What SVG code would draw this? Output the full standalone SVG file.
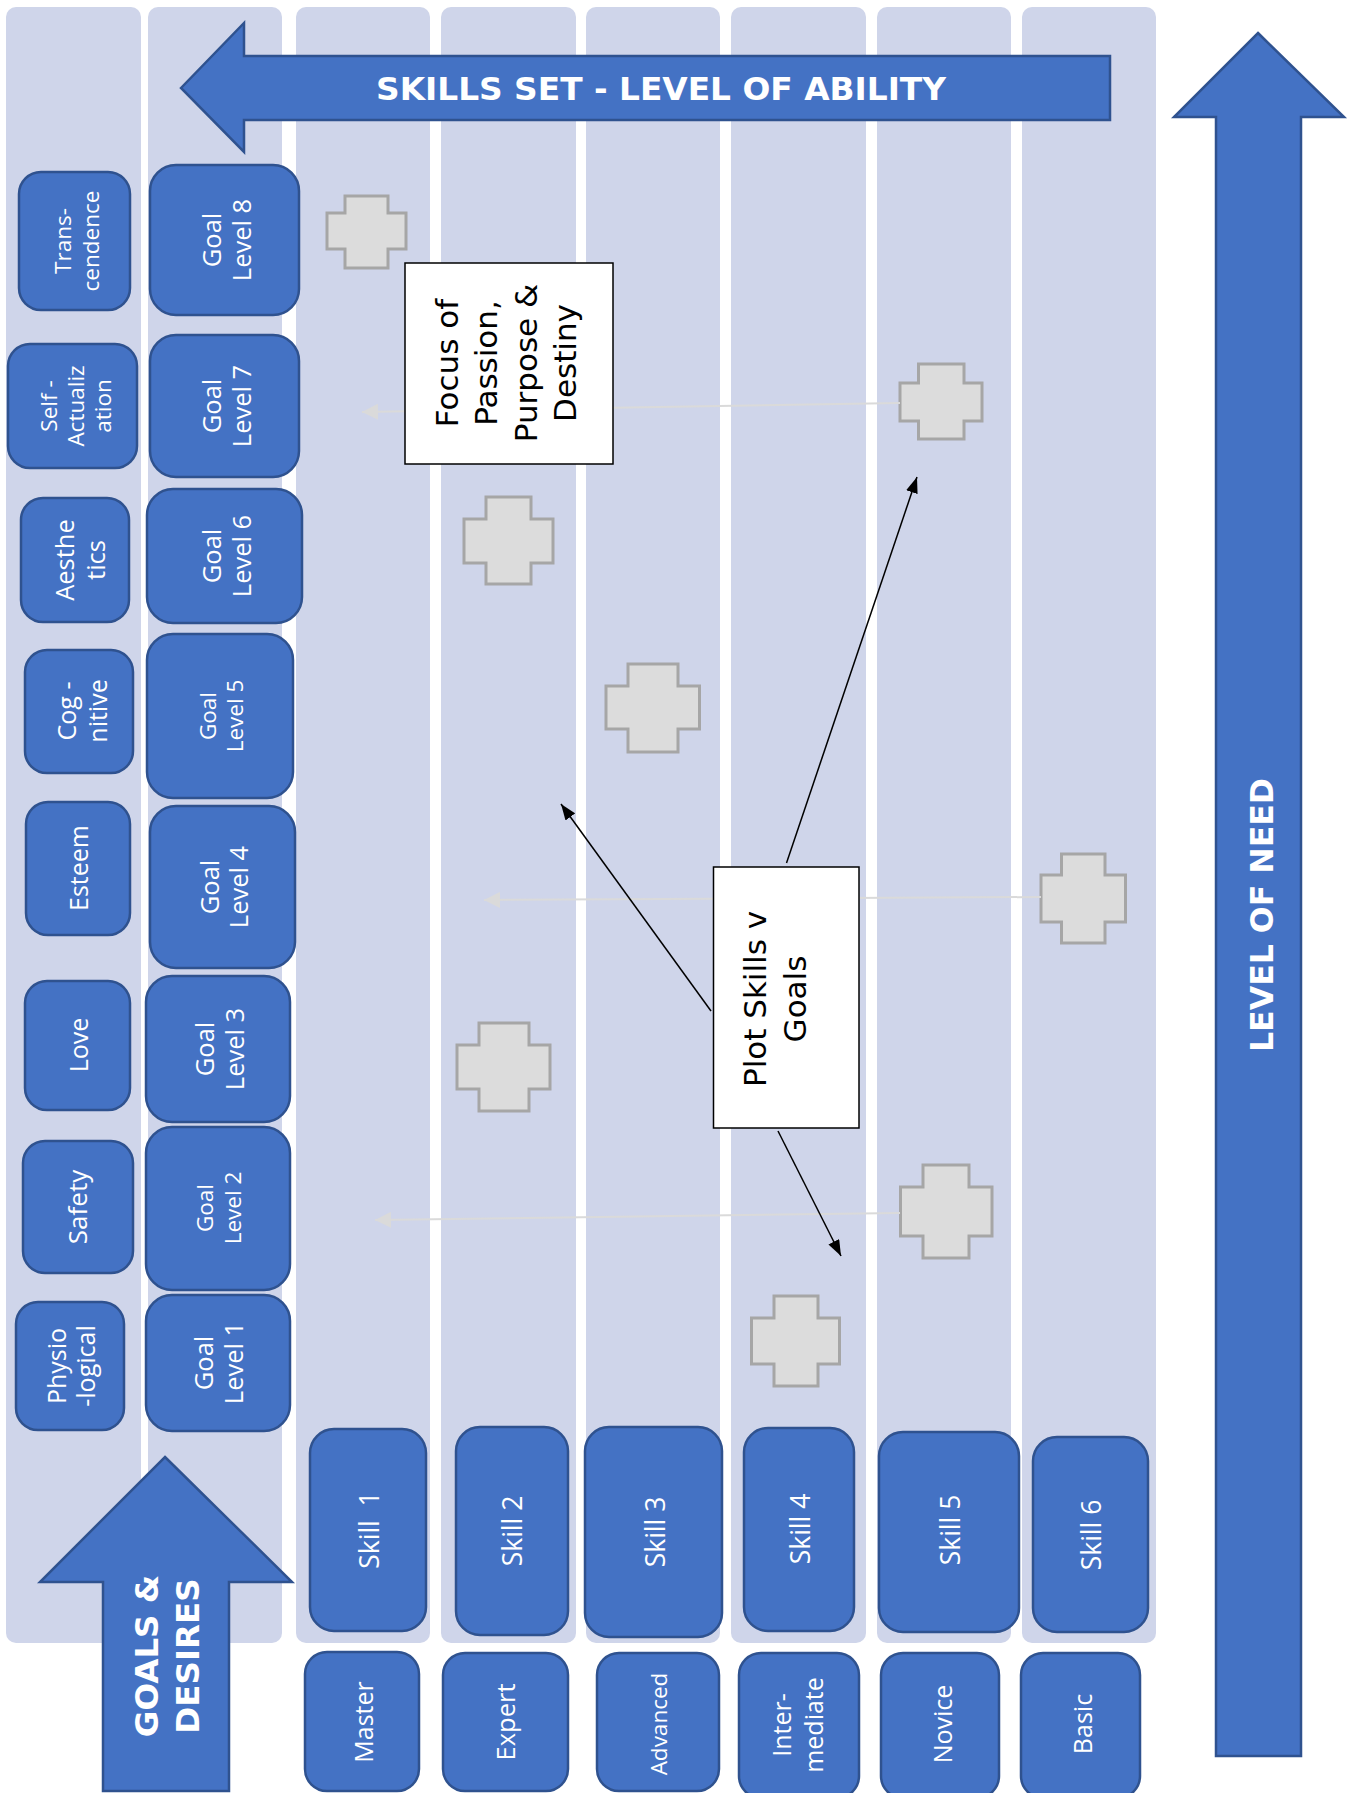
<svg xmlns="http://www.w3.org/2000/svg" width="1354" height="1793" viewBox="0 0 1354 1793">
  <style>
    .lane { fill: #CFD5EA; }
    .box { fill: #4472C4; stroke: #2F528F; stroke-width: 2.5; }
    .big { fill: #4472C4; stroke: #2F528F; stroke-width: 2.5; }
    .lbl { fill: #FFFFFF; font-family: "Open Sans", "DejaVu Sans", sans-serif; text-anchor: middle; }
    .bigtxt { fill: #FFFFFF; font-family: "DejaVu Sans", "Liberation Sans", sans-serif; font-weight: bold; text-anchor: middle; }
    .cross { fill: #DCDCDC; stroke: #A6A6A6; stroke-width: 3; }
    .note { fill: #FFFFFF; stroke: #000000; stroke-width: 1.5; }
    .ntxt { fill: #000000; font-family: "DejaVu Sans", "Liberation Sans", sans-serif; font-size: 31px; text-anchor: middle; }
    .blk { stroke: #000000; stroke-width: 1.5; fill: none; marker-end: url(#ah); }
    .gry { stroke: #DADADA; stroke-width: 2; fill: none; marker-end: url(#ahg); }
  </style>
  <defs>
    <marker id="ah" viewBox="0 0 16 12" refX="16" refY="6" markerWidth="16" markerHeight="12" markerUnits="userSpaceOnUse" orient="auto">
      <path d="M0,0 L16,6 L0,12 z" fill="#000000"/>
    </marker>
    <marker id="ahg" viewBox="0 0 16 16" refX="16" refY="8" markerWidth="16" markerHeight="16" markerUnits="userSpaceOnUse" orient="auto">
      <path d="M0,0 L16,8 L0,16 z" fill="#DADADA"/>
    </marker>
  </defs>

  <rect width="1354" height="1793" fill="#FFFFFF"/>

  <!-- background swim lanes -->
  <g id="lanes">
    <rect class="lane" x="6" y="7" width="135" height="1636" rx="10"/>
    <rect class="lane" x="148" y="7" width="134" height="1636" rx="10"/>
    <rect class="lane" x="296" y="7" width="134" height="1636" rx="10"/>
    <rect class="lane" x="441" y="7" width="135" height="1636" rx="10"/>
    <rect class="lane" x="586" y="7" width="134" height="1636" rx="10"/>
    <rect class="lane" x="731" y="7" width="135" height="1636" rx="10"/>
    <rect class="lane" x="877" y="7" width="134" height="1636" rx="10"/>
    <rect class="lane" x="1022" y="7" width="134" height="1636" rx="10"/>
  </g>

  <!-- big block arrows -->
  <g id="arrow-skills-set">
    <polygon class="big" points="181,88 244,23 244,56 1110,56 1110,120 244,120 244,152"/>
    <text class="bigtxt" x="661" y="100" font-size="32" textLength="570" lengthAdjust="spacingAndGlyphs">SKILLS SET - LEVEL OF ABILITY</text>
  </g>
  <g id="arrow-level-of-need">
    <polygon class="big" points="1258,33 1344,117 1301,117 1301,1756 1216,1756 1216,117 1174,117"/>
    <text class="bigtxt" transform="translate(1273,915) rotate(-90)" font-size="32" textLength="274" lengthAdjust="spacingAndGlyphs">LEVEL OF NEED</text>
  </g>
  <g id="arrow-goals-desires">
    <polygon class="big" points="165,1457 292,1582 229,1582 229,1791 103,1791 103,1582 40,1582"/>
    <text class="bigtxt" transform="translate(158,1656) rotate(-90)" font-size="32.5"><tspan x="0" y="0">GOALS &amp;</tspan><tspan x="0" y="41">DESIRES</tspan></text>
  </g>

  <!-- needs column -->
  <g id="need-transcendence">
    <rect class="box" x="19" y="172" width="111" height="138" rx="22"/>
    <text class="lbl" transform="translate(71,241) rotate(-90)" font-size="22.5"><tspan x="0" y="0">Trans-</tspan><tspan x="0" y="28">cendence</tspan></text>
  </g>
  <g id="need-self-actualization">
    <rect class="box" x="8" y="344" width="129" height="124" rx="22"/>
    <text class="lbl" transform="translate(57,406) rotate(-90)" font-size="22.5"><tspan x="0" y="0">Self -</tspan><tspan x="0" y="27">Actualiz</tspan><tspan x="0" y="54">ation</tspan></text>
  </g>
  <g id="need-aesthetics">
    <rect class="box" x="21" y="498" width="108" height="124" rx="22"/>
    <text class="lbl" transform="translate(74,560) rotate(-90)" font-size="25.5"><tspan x="0" y="0">Aesthe</tspan><tspan x="0" y="31">tics</tspan></text>
  </g>
  <g id="need-cognitive">
    <rect class="box" x="25" y="650" width="108" height="123" rx="22"/>
    <text class="lbl" transform="translate(76,711) rotate(-90)" font-size="25"><tspan x="0" y="0">Cog -</tspan><tspan x="0" y="31">nitive</tspan></text>
  </g>
  <g id="need-esteem">
    <rect class="box" x="26" y="802" width="104" height="133" rx="22"/>
    <text class="lbl" transform="translate(88,868) rotate(-90)" font-size="25">Esteem</text>
  </g>
  <g id="need-love">
    <rect class="box" x="25" y="981" width="105" height="129" rx="22"/>
    <text class="lbl" transform="translate(88,1045) rotate(-90)" font-size="25">Love</text>
  </g>
  <g id="need-safety">
    <rect class="box" x="23" y="1141" width="110" height="132" rx="22"/>
    <text class="lbl" transform="translate(87,1207) rotate(-90)" font-size="26">Safety</text>
  </g>
  <g id="need-physiological">
    <rect class="box" x="16" y="1302" width="108" height="128" rx="22"/>
    <text class="lbl" transform="translate(66,1366) rotate(-90)" font-size="25"><tspan x="0" y="0">Physio</tspan><tspan x="0" y="29">-logical</tspan></text>
  </g>

  <!-- goal levels column -->
  <g id="goal-8">
    <rect class="box" x="150" y="165" width="149" height="150" rx="26"/>
    <text class="lbl" transform="translate(221,240) rotate(-90)" font-size="25.5"><tspan x="0" y="0">Goal</tspan><tspan x="0" y="30">Level 8</tspan></text>
  </g>
  <g id="goal-7">
    <rect class="box" x="150" y="335" width="149" height="142" rx="26"/>
    <text class="lbl" transform="translate(221,406) rotate(-90)" font-size="25.5"><tspan x="0" y="0">Goal</tspan><tspan x="0" y="30">Level 7</tspan></text>
  </g>
  <g id="goal-6">
    <rect class="box" x="147" y="489" width="155" height="134" rx="26"/>
    <text class="lbl" transform="translate(221,556) rotate(-90)" font-size="25.5"><tspan x="0" y="0">Goal</tspan><tspan x="0" y="30">Level 6</tspan></text>
  </g>
  <g id="goal-5">
    <rect class="box" x="147" y="634" width="146" height="164" rx="26"/>
    <text class="lbl" transform="translate(216,716) rotate(-90)" font-size="22.5"><tspan x="0" y="0">Goal</tspan><tspan x="0" y="27">Level 5</tspan></text>
  </g>
  <g id="goal-4">
    <rect class="box" x="150" y="806" width="145" height="162" rx="26"/>
    <text class="lbl" transform="translate(219,887) rotate(-90)" font-size="25.5"><tspan x="0" y="0">Goal</tspan><tspan x="0" y="29">Level 4</tspan></text>
  </g>
  <g id="goal-3">
    <rect class="box" x="146" y="976" width="144" height="146" rx="26"/>
    <text class="lbl" transform="translate(214,1049) rotate(-90)" font-size="25.5"><tspan x="0" y="0">Goal</tspan><tspan x="0" y="30">Level 3</tspan></text>
  </g>
  <g id="goal-2">
    <rect class="box" x="146" y="1127" width="144" height="163" rx="26"/>
    <text class="lbl" transform="translate(213,1208) rotate(-90)" font-size="22.5"><tspan x="0" y="0">Goal</tspan><tspan x="0" y="28">Level 2</tspan></text>
  </g>
  <g id="goal-1">
    <rect class="box" x="146" y="1295" width="144" height="136" rx="26"/>
    <text class="lbl" transform="translate(213,1363) rotate(-90)" font-size="25.5"><tspan x="0" y="0">Goal</tspan><tspan x="0" y="30">Level 1</tspan></text>
  </g>

  <!-- skills row -->
  <g id="skill-1">
    <rect class="box" x="310" y="1429" width="116" height="202" rx="24"/>
    <text class="lbl" transform="translate(379,1530) rotate(-90)" font-size="26.5">Skill&#160;&#160;1</text>
  </g>
  <g id="skill-2">
    <rect class="box" x="456" y="1427" width="112" height="208" rx="24"/>
    <text class="lbl" transform="translate(522,1531) rotate(-90)" font-size="26.5">Skill 2</text>
  </g>
  <g id="skill-3">
    <rect class="box" x="585" y="1427" width="137" height="210" rx="24"/>
    <text class="lbl" transform="translate(665,1532) rotate(-90)" font-size="26.5">Skill 3</text>
  </g>
  <g id="skill-4">
    <rect class="box" x="744" y="1428" width="110" height="203" rx="24"/>
    <text class="lbl" transform="translate(810,1529) rotate(-90)" font-size="26.5">Skill 4</text>
  </g>
  <g id="skill-5">
    <rect class="box" x="879" y="1432" width="140" height="200" rx="24"/>
    <text class="lbl" transform="translate(960,1530) rotate(-90)" font-size="26.5">Skill 5</text>
  </g>
  <g id="skill-6">
    <rect class="box" x="1033" y="1437" width="115" height="195" rx="24"/>
    <text class="lbl" transform="translate(1101,1535) rotate(-90)" font-size="26.5">Skill 6</text>
  </g>

  <!-- ability levels row -->
  <g id="level-master">
    <rect class="box" x="305" y="1652" width="114" height="139" rx="22"/>
    <text class="lbl" transform="translate(373,1722) rotate(-90)" font-size="25">Master</text>
  </g>
  <g id="level-expert">
    <rect class="box" x="443" y="1653" width="125" height="138" rx="22"/>
    <text class="lbl" transform="translate(515,1722) rotate(-90)" font-size="25.5">Expert</text>
  </g>
  <g id="level-advanced">
    <rect class="box" x="597" y="1653" width="122" height="138" rx="22"/>
    <text class="lbl" transform="translate(667,1724) rotate(-90)" font-size="22.5">Advanced</text>
  </g>
  <g id="level-intermediate">
    <rect class="box" x="739" y="1653" width="120" height="145" rx="22"/>
    <text class="lbl" transform="translate(791,1725) rotate(-90)" font-size="25"><tspan x="0" y="0">Inter-</tspan><tspan x="0" y="32">mediate</tspan></text>
  </g>
  <g id="level-novice">
    <rect class="box" x="881" y="1653" width="118" height="145" rx="22"/>
    <text class="lbl" transform="translate(952,1724) rotate(-90)" font-size="25">Novice</text>
  </g>
  <g id="level-basic">
    <rect class="box" x="1021" y="1653" width="119" height="145" rx="22"/>
    <text class="lbl" transform="translate(1092,1724) rotate(-90)" font-size="25">Basic</text>
  </g>

  <!-- plotted markers -->
  <g id="markers">
    <path id="marker-1" class="cross" d="M345,196 H388 V213 H406 V249 H388 V268 H345 V249 H327 V213 H345 Z"/>
    <path id="marker-2" class="cross" d="M918.5,364 H964 V383 H982 V421 H964 V439 H918.5 V421 H900 V383 H918.5 Z"/>
    <path id="marker-3" class="cross" d="M486,497 H531 V519 H553 V563 H531 V584 H486 V563 H464 V519 H486 Z"/>
    <path id="marker-4" class="cross" d="M628,664 H678 V686 H699.5 V729 H678 V752 H628 V729 H606 V686 H628 Z"/>
    <path id="marker-5" class="cross" d="M1061.5,854 H1105 V875 H1125.5 V922 H1105 V943 H1061.5 V922 H1041 V875 H1061.5 Z"/>
    <path id="marker-6" class="cross" d="M479,1023 H529 V1045 H550 V1089 H529 V1111 H479 V1089 H457 V1045 H479 Z"/>
    <path id="marker-7" class="cross" d="M923,1165 H969 V1187 H992 V1236 H969 V1258 H923 V1236 H900.5 V1187 H923 Z"/>
    <path id="marker-8" class="cross" d="M774,1296 H818 V1318 H839.5 V1364 H818 V1386 H774 V1364 H751.5 V1318 H774 Z"/>
  </g>

  <!-- connectors -->
  <g id="connectors">
    <line class="gry" x1="900" y1="403" x2="362" y2="412"/>
    <line class="gry" x1="1041" y1="897" x2="484" y2="900"/>
    <line class="gry" x1="900" y1="1213" x2="375" y2="1220"/>
    <line class="blk" x1="786.5" y1="863" x2="917" y2="477"/>
    <line class="blk" x1="711" y1="1011" x2="561" y2="804"/>
    <line class="blk" x1="778" y1="1131" x2="841" y2="1256"/>
  </g>

  <!-- callout notes -->
  <g id="note-focus">
    <rect class="note" x="405" y="263" width="208" height="201"/>
    <text class="ntxt" transform="translate(458,363) rotate(-90)"><tspan x="0" y="0">Focus of</tspan><tspan x="0" y="39.3">Passion,</tspan><tspan x="0" y="78.6">Purpose &amp;</tspan><tspan x="0" y="118">Destiny</tspan></text>
  </g>
  <g id="note-plot">
    <rect class="note" x="713.5" y="867" width="145.5" height="261"/>
    <text class="ntxt" transform="translate(766,999) rotate(-90)"><tspan x="0" y="0">Plot Skills v</tspan><tspan x="0" y="40">Goals</tspan></text>
  </g>
</svg>
